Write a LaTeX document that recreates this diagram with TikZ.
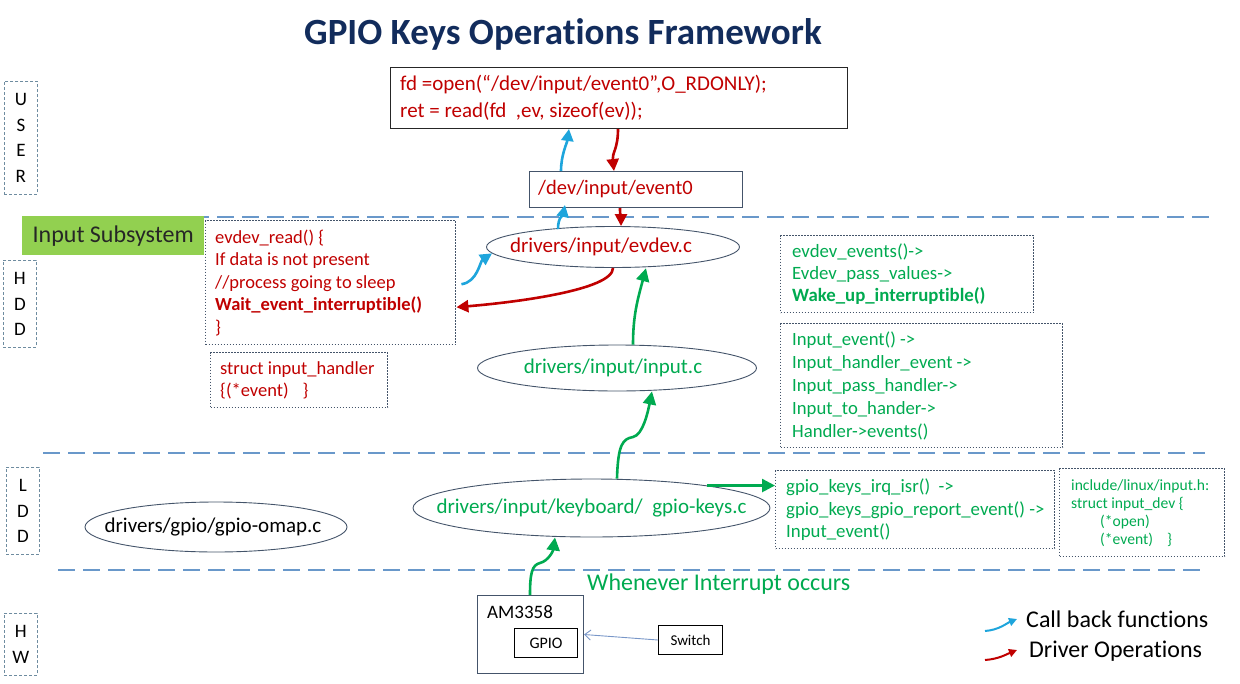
\documentclass[tikz,border=0pt]{standalone}
\usepackage{fontspec}
\setmainfont{Carlito}[Ligatures={TeX,NoCommon}]
\usetikzlibrary{shapes.geometric,arrows.meta}
\definecolor{dred}{RGB}{192,0,0}
\definecolor{dgreen}{RGB}{0,170,80}
\definecolor{cblue}{RGB}{30,165,220}
\definecolor{sepblue}{RGB}{105,152,202}
\definecolor{slate}{RGB}{68,84,106}
\definecolor{navy}{RGB}{18,44,92}
\definecolor{subgreen}{RGB}{146,208,80}
\definecolor{lblgray}{RGB}{110,140,160}
\definecolor{thinblue}{RGB}{120,150,200}
\begin{document}
\begin{tikzpicture}[x=1pt,y=-1pt,
  lbl/.style={draw=lblgray, line width=0.8pt, dash pattern=on 3pt off 2pt, anchor=north west, inner sep=0pt, align=center, font=\fontsize{19}{25.5}\selectfont},
  sep/.style={draw=sepblue, line width=2.5pt, dash pattern=on 17pt off 8pt},
  dotbox/.style={draw=slate, line width=1.4pt, dash pattern=on 1.4pt off 1.6pt, anchor=north west, inner sep=0pt},
  solbox/.style={draw=#1, line width=1pt, anchor=north west, inner sep=0pt},
  ell/.style={ellipse, draw=slate, line width=0.9pt, inner sep=0pt},
  etxt/.style={font=\fontsize{21}{24}\selectfont, inner sep=0pt},
  code/.style={font=\fontsize{18.5}{22.5}\selectfont, align=left, anchor=west, inner sep=0pt},
  gcode/.style={code, font=\fontsize{18.8}{22.3}\selectfont, text=dgreen},
  cbarrow/.style={draw=cblue, line width=2.6pt, -{Triangle[length=12pt,width=12pt]}},
  drarrow/.style={draw=dred, line width=2.6pt, -{Triangle[length=12pt,width=12pt]}},
  gnarrow/.style={draw=dgreen, line width=2.6pt, -{Triangle[length=13pt,width=13pt]}},
  ]
\useasboundingbox (0,0) rectangle (1240,683);

% title
\node[font=\fontsize{37}{40}\selectfont\bfseries, text=navy] (title) at (563,34) {GPIO Keys Operations Framework};

% separators
\draw[sep] (42,217) -- (1215,217);
\draw[sep] (43,453) -- (1205,453);
\draw[sep] (58,570) -- (1205,570);

% layer labels
\node[lbl, minimum width=33, minimum height=113] (userlbl) at (4,81) {U\\S\\E\\R};
\node[lbl, minimum width=33, minimum height=87] (hddlbl) at (3,260) {H\\D\\D};
\node[lbl, minimum width=33, minimum height=87] (lddlbl) at (6,467) {L\\D\\D};
\node[lbl, minimum width=33, minimum height=62] (hwlbl) at (4,613) {H\\W};

% input subsystem
\node[fill=subgreen, minimum width=182, minimum height=39, anchor=north west, inner sep=0pt, font=\fontsize{24}{27}\selectfont, text=black!85] (insub) at (22,216) {Input Subsystem};

% user code
\node[solbox=black!85, minimum width=457, minimum height=61] (userbox) at (390,67) {};
\node[code, font=\fontsize{21}{27}\selectfont, text=dred] (usertxt) at ([xshift=10pt]userbox.west) {fd =open(“/dev/input/event0”,O\_RDONLY);\\ret = read(fd~ ,ev, sizeof(ev));};

% /dev/input/event0
\node[solbox=slate, minimum width=213, minimum height=36] (devbox) at (529,171) {};
\node[code, font=\fontsize{20.5}{24}\selectfont, text=dred] (devtxt) at ([xshift=9pt]devbox.west) {/dev/input/event0};

% ellipses
\node[ell, minimum width=253, minimum height=41] (evdev) at (613,247) {};
\node[etxt, text=dred] (evdevtxt) at ([xshift=-12pt]evdev.center) {drivers/input/evdev.c};
\node[ell, minimum width=279, minimum height=46] (input) at (617,368) {};
\node[etxt, text=dgreen] (inputtxt) at ([xshift=-4pt]input.center) {drivers/input/input.c};
\node[ell, minimum width=357, minimum height=58] (gkeys) at (591.5,508) {};
\node[etxt, text=dgreen] (gkeystxt) at (gkeys.center) {drivers/input/keyboard/~ gpio-keys.c};
\node[ell, minimum width=262, minimum height=50] (gomap) at (216,527) {};
\node[etxt, text=black] (gomaptxt) at ([xshift=-3pt]gomap.center) {drivers/gpio/gpio-omap.c};

% evdev_read box
\node[dotbox, minimum width=250, minimum height=124] (evread) at (205,220) {};
\node[code, text=dred] (evreadtxt) at ([xshift=10pt]evread.west) {evdev\_read() \{\\If data is not present\\//process going to sleep\\\textbf{Wait\_event\_interruptible()}\\\}};

% struct input_handler
\node[dotbox, minimum width=177, minimum height=55] (handler) at (210,352) {};
\node[code, text=dred] (handlertxt) at ([xshift=10pt]handler.west) {struct input\_handler\\\{(*event)\hspace{14pt}\}};

% right boxes
\node[dotbox, minimum width=253, minimum height=77] (rbox1) at (780,235) {};
\node[gcode] (rbox1txt) at ([xshift=12pt]rbox1.west) {evdev\_events()->\\Evdev\_pass\_values->\\\textbf{Wake\_up\_interruptible()}};
\node[dotbox, minimum width=282, minimum height=124] (rbox2) at (780,323) {};
\node[gcode, font=\fontsize{18.7}{23}\selectfont] (rbox2txt) at ([xshift=12pt]rbox2.west) {Input\_event() ->\\Input\_handler\_event ->\\Input\_pass\_handler->\\Input\_to\_hander->\\Handler->events()};

\node[dotbox, minimum width=279, minimum height=78] (gpiobox) at (775,470) {};
\node[gcode] (gpiotxt) at ([xshift=11pt]gpiobox.west) {gpio\_keys\_irq\_isr()~ ->\\gpio\_keys\_gpio\_report\_event() ->\\Input\_event()};
\node[dotbox, minimum width=165, minimum height=88] (incbox) at (1059,468) {};
\node[gcode, font=\fontsize{15.6}{18}\selectfont] (inctxt) at ([xshift=12pt]incbox.west) {include/linux/input.h:\\struct input\_dev \{\\\hspace*{29pt}(*open)\\\hspace*{29pt}(*event)\hspace{14pt}\}};

% interrupt text
\node[code, font=\fontsize{24}{27}\selectfont, text=dgreen] (irqtxt) at (587,584) {Whenever Interrupt occurs};

% hardware
\node[solbox=slate, minimum width=106, minimum height=78] (am) at (477,595) {};
\node[code, font=\fontsize{19}{22}\selectfont, text=black] (amtxt) at (487,612) {AM3358};
\node[solbox=black, minimum width=63, minimum height=29, font=\fontsize{16}{18}\selectfont] (gpio) at (514,628) {GPIO};
\node[solbox=black, minimum width=64, minimum height=29, font=\fontsize{15}{17}\selectfont] (sw) at (658,625) {Switch};
\draw[draw=thinblue, line width=0.9pt, -{Straight Barb[length=6pt,width=10pt]}] (sw.west) -- (am.east);

% arrows
\draw[cbarrow] ([xshift=32pt]devbox.north west) .. controls +(0,-16) and +(-2,14) .. ([xshift=179pt]userbox.south west);
\draw[drarrow] ([xshift=228pt]userbox.south west) .. controls +(0,20) and +(-2,-18) .. ([xshift=85pt]devbox.north west);
\draw[cbarrow] ([xshift=-55pt,yshift=-3pt]evdev.north) .. controls +(0,-12) and +(-2,10) .. ([xshift=36pt,yshift=3pt]devbox.south west);
\draw[drarrow] ([xshift=91pt]devbox.south west) .. controls +(0,8) and +(0,-8) .. ([xshift=8pt]evdev.north);
\draw[cbarrow] ([xshift=5pt,yshift=-1.5pt]evread.east) .. controls +(16,-2) and +(-12,8) .. (evdev.183);
\draw[drarrow] (evdev.south) .. controls +(0,22) and +(60,-5) .. ([yshift=-24.5pt]evread.east);
\draw[gnarrow] ([xshift=16pt]input.north) .. controls +(0,-30) and +(-8,30) .. ([xshift=33pt,yshift=-0.3pt]evdev.south);
\draw[gnarrow] ([xshift=25.5pt]gkeys.north) .. controls +(1,-35) and +(-10,2) .. (633,437) .. controls +(10,-2) and +(-4,20) .. ([xshift=35pt]input.south);
\draw[gnarrow] ([xshift=53pt]am.north west) .. controls +(0,-22) and +(-8,2) .. (540,563) .. controls +(8,-2) and +(-2,14) .. ([xshift=-36.5pt]gkeys.south);
\draw[gnarrow] (gkeys.11.5) -- (gkeys.11.5 -| gpiobox.west);

% legend
\coordinate (cbs) at (985,631);
\coordinate (cbe) at (1017,619);
\coordinate (dos) at (985,660);
\coordinate (doe) at (1017,650);
\draw[draw=cblue, line width=2pt, -{Triangle[length=8pt,width=8pt]}] (cbs) .. controls +(14,-1) and +(-10,4) .. (cbe);
\draw[draw=dred, line width=2pt, -{Triangle[length=8pt,width=8pt]}] (dos) .. controls +(14,-1) and +(-10,4) .. (doe);
\node[code, font=\fontsize{24}{27}\selectfont, text=black] (cbtxt) at (1026,619) {Call back functions};
\node[code, font=\fontsize{24}{27}\selectfont, text=black] (dotxt) at (1029,651) {Driver Operations};
\end{tikzpicture}
\end{document}
